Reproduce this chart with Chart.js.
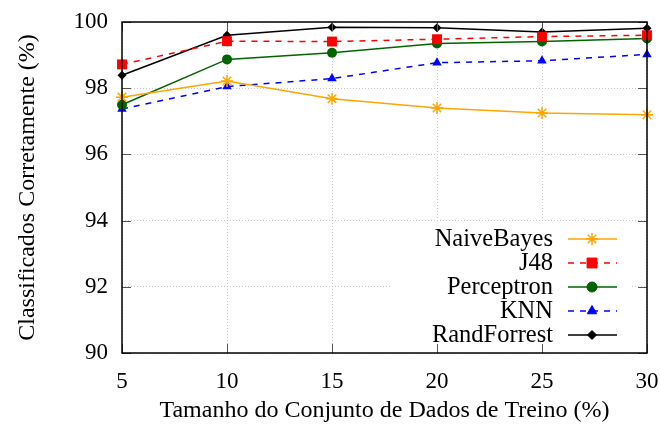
<!DOCTYPE html>
<html>
<head>
<meta charset="utf-8">
<script src="https://cdn.jsdelivr.net/npm/chart.js@4.4.1/dist/chart.umd.min.js"></script>
<style>
  html, body { margin: 0; padding: 0; background: #fff; }
  #wrap { width: 660px; height: 426px; }
</style>
</head>
<body>
<div id="wrap"><canvas id="chart" width="660" height="426"></canvas></div>
<script>
// training set sizes (%)
const trainSizes = [5, 10, 15, 20, 25, 30];

// accuracy per classifier (%)
const naiveBayes  = [97.73, 98.22, 97.68, 97.40, 97.25, 97.20];
const j48         = [98.72, 99.42, 99.41, 99.48, 99.56, 99.60];
const perceptron  = [97.50, 98.87, 99.07, 99.35, 99.41, 99.50];
const knn         = [97.37, 98.05, 98.29, 98.77, 98.83, 99.02];
const randForrest = [98.39, 99.60, 99.84, 99.83, 99.70, 99.81];

const yTicks = [90, 92, 94, 96, 98, 100];

const FONT = 'Liberation Serif, Times New Roman, serif';

const pts = arr => arr.map((v, i) => ({ x: trainSizes[i], y: v }));

// legend box inside the plot, gnuplot style
const insideLegend = {
  id: 'insideLegend',
  afterDraw(chart) {
    const ctx = chart.ctx;
    ctx.save();
    ctx.fillStyle = '#fff';
    ctx.fillRect(390, 222, 242, 130);
    ctx.font = '24.5px ' + FONT;
    ctx.textAlign = 'right';
    ctx.textBaseline = 'middle';
    chart.data.datasets.forEach((ds, i) => {
      const y = 239 + i * 24;
      ctx.fillStyle = '#000';
      ctx.fillText(ds.label, 553, y + 1);
      ctx.strokeStyle = ds.borderColor;
      ctx.lineWidth = ds.borderWidth;
      ctx.setLineDash(ds.borderDash || []);
      ctx.beginPath();
      ctx.moveTo(568, y);
      ctx.lineTo(617, y);
      ctx.stroke();
      ctx.setLineDash([]);
      ctx.fillStyle = ds.pointBackgroundColor;
      ctx.strokeStyle = ds.pointBorderColor;
      ctx.lineWidth = ds.pointBorderWidth || 1;
      Chart.helpers.drawPoint(ctx, {
        pointStyle: ds.pointStyle, radius: ds.pointRadius, rotation: 0,
        borderWidth: ds.pointBorderWidth || 1
      }, 592, y);
    });
    ctx.restore();
  }
};

// frame and inward ticks on all four sides
const frameTicks = {
  id: 'frameTicks',
  afterDraw(chart) {
    const { ctx, chartArea: a, scales } = chart;
    ctx.save();
    ctx.strokeStyle = '#555';
    ctx.lineWidth = 1;
    const len = 9;
    trainSizes.forEach(v => {
      const x = Math.round(scales.x.getPixelForValue(v)) + 0.5;
      ctx.beginPath();
      ctx.moveTo(x, a.bottom); ctx.lineTo(x, a.bottom - len);
      ctx.moveTo(x, a.top); ctx.lineTo(x, a.top + len);
      ctx.stroke();
    });
    yTicks.forEach(v => {
      const y = Math.round(scales.y.getPixelForValue(v)) + 0.5;
      ctx.beginPath();
      ctx.moveTo(a.left, y); ctx.lineTo(a.left + len, y);
      ctx.moveTo(a.right, y); ctx.lineTo(a.right - len, y);
      ctx.stroke();
    });
    ctx.strokeStyle = '#000';
    ctx.lineWidth = 1.5;
    ctx.strokeRect(a.left, a.top, a.right - a.left, a.bottom - a.top);
    ctx.restore();
  }
};

new Chart(document.getElementById('chart'), {
  type: 'line',
  data: {
    datasets: [
      {
        label: 'NaiveBayes',
        data: pts(naiveBayes),
        borderColor: '#ffa500',
        borderWidth: 1.5,
        pointStyle: 'star',
        pointRadius: 6,
        pointBorderWidth: 1.5,
        pointBackgroundColor: '#ffa500',
        pointBorderColor: '#ffa500'
      },
      {
        label: 'J48',
        data: pts(j48),
        borderColor: '#ff0000',
        borderWidth: 1.5,
        borderDash: [6, 6],
        pointStyle: 'rect',
        pointRadius: 7,
        pointBorderWidth: 0,
        pointBackgroundColor: '#ff0000',
        pointBorderColor: '#ff0000'
      },
      {
        label: 'Perceptron',
        data: pts(perceptron),
        borderColor: '#006400',
        borderWidth: 1.5,
        pointStyle: 'circle',
        pointRadius: 5,
        pointBorderWidth: 0,
        pointBackgroundColor: '#006400',
        pointBorderColor: '#006400'
      },
      {
        label: 'KNN',
        data: pts(knn),
        borderColor: '#0000ff',
        borderWidth: 1.5,
        borderDash: [6, 6],
        pointStyle: 'triangle',
        pointRadius: 5.5,
        pointBorderWidth: 0,
        pointBackgroundColor: '#0000ff',
        pointBorderColor: '#0000ff'
      },
      {
        label: 'RandForrest',
        data: pts(randForrest),
        borderColor: '#000000',
        borderWidth: 1.5,
        pointStyle: 'rectRot',
        pointRadius: 4.5,
        pointBorderWidth: 0,
        pointBackgroundColor: '#000000',
        pointBorderColor: '#000000'
      }
    ]
  },
  options: {
    responsive: false,
    animation: false,
    clip: false,
    layout: { padding: { left: 0, top: 22, right: 0, bottom: 0 } },
    plugins: {
      legend: { display: false },
      tooltip: { enabled: false }
    },
    scales: {
      x: {
        type: 'linear',
        min: 5,
        max: 30,
        afterFit: s => { s.height = 73; s.paddingRight = 13; },
        afterBuildTicks: s => { s.ticks = trainSizes.map(v => ({ value: v })); },
        ticks: { color: '#000', padding: 15, font: { family: FONT, size: 23 } },
        grid: { color: '#c8c8c8', drawTicks: false, lineWidth: 1 },
        border: { display: false, dash: [1, 2] },
        title: {
          display: true,
          text: 'Tamanho do Conjunto de Dados de Treino (%)',
          color: '#000',
          font: { family: FONT, size: 24 },
          padding: { top: 0, bottom: 1 }
        }
      },
      y: {
        min: 90,
        max: 100,
        afterFit: s => { s.width = 122; s.paddingTop = 0; s.paddingBottom = 0; },
        afterBuildTicks: s => { s.ticks = yTicks.map(v => ({ value: v })); },
        ticks: { color: '#000', padding: 14, font: { family: FONT, size: 23 } },
        grid: { color: '#c8c8c8', drawTicks: false, lineWidth: 1 },
        border: { display: false, dash: [1, 2] },
        title: {
          display: true,
          text: 'Classificados Corretamente (%)',
          color: '#000',
          font: { family: FONT, size: 24 },
          padding: { top: 13, bottom: 0 }
        }
      }
    }
  },
  plugins: [insideLegend, frameTicks]
});
</script>
</body>
</html>
